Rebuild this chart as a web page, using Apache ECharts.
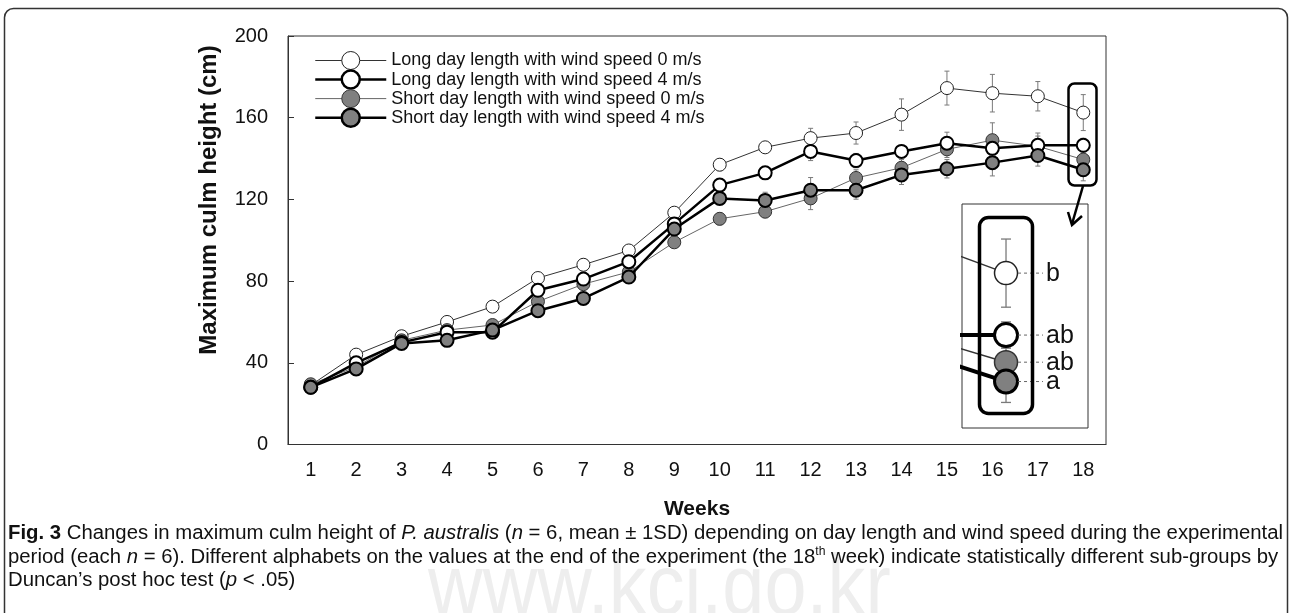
<!DOCTYPE html>
<html><head><meta charset="utf-8">
<script src="https://cdn.jsdelivr.net/npm/echarts@6/dist/echarts.min.js"></script>
<style>html,body{margin:0;padding:0;background:#fff}#c{width:1292px;height:613px}</style>
</head><body><div id="c"></div>
<script>
const weeks = ['1','2','3','4','5','6','7','8','9','10','11','12','13','14','15','16','17','18'];
const seriesNames = [
  'Long day length with wind speed 0 m/s',
  'Long day length with wind speed 4 m/s',
  'Short day length with wind speed 0 m/s',
  'Short day length with wind speed 4 m/s'
];
const longWind0  = [29, 44, 53, 60, 67.5, 81.5, 88, 95, 113.5, 137, 145.5, 150, 152.5, 161.5, 174.5, 172, 170.5, 162.5];
const longWind4  = [28, 40, 50, 55, 55, 75.5, 81, 89.5, 108, 127, 133, 143.5, 139, 143.5, 147.5, 145, 146.5, 146.5];
const shortWind0 = [29.5, 38, 51, 56, 58.5, 70, 78.5, 84.5, 99, 110.5, 114, 120.5, 130.5, 135.5, 144.5, 149, 146, 139.5];
const shortWind4 = [28, 37, 49.5, 51, 56, 65.5, 71.5, 82, 105.5, 120.5, 119.5, 124.5, 124.5, 132, 135, 138, 141.5, 134.5];
const sdLongWind0  = [1, 1, 1.5, 1.5, 1.5, 2, 3, 2.5, 2.5, 3, 2, 4.8, 5.4, 7.7, 8.3, 9.2, 7.2, 8.8];
const sdLongWind4  = [1, 1, 1, 1, 1, 2, 2, 2, 2, 3, 3, 4.5, 3.5, 3, 5.4, 5, 6, 3.4];
const sdShortWind0 = [1, 1, 1, 1, 1.5, 2, 2, 2, 2, 3, 3, 5.5, 4, 4, 4, 8.5, 5, 4];
const sdShortWind4 = [1, 1, 1, 1, 1, 3, 2, 2, 2, 3, 4, 6.2, 4.4, 4.7, 4.5, 6.5, 5.2, 5.4];
const yTickMin = 0, yTickMax = 200, yTickStep = 40;
const groupLetters = ['b', 'ab', 'ab', 'a'];

const allMeans = [longWind0, longWind4, shortWind0, shortWind4];
const allSd = [sdLongWind0, sdLongWind4, sdShortWind0, sdShortWind4];
const looks = [
  {fill:'#ffffff', line:'#333333', lw:1,   bw:1,   border:'#222', ilw:1.5, ibw:1.5},
  {fill:'#ffffff', line:'#000000', lw:2.5, bw:2,   border:'#000', ilw:4,   ibw:3},
  {fill:'#808080', line:'#666666', lw:1,   bw:1,   border:'#333', ilw:1.5, ibw:1.5},
  {fill:'#808080', line:'#000000', lw:2.5, bw:2,   border:'#000', ilw:4,   ibw:3}
];
const drawOrder = [0, 2, 1, 3];
const FONT = 'Liberation Sans, Arial, Helvetica, sans-serif';

function textW(str, font){ const c=document.createElement('canvas').getContext('2d'); c.font=font; return c.measureText(str).width; }

const chart = echarts.init(document.getElementById('c'), null, {renderer:'canvas'});

const series = [];
// error bars main
series.push({
  type:'custom', xAxisIndex:0, yAxisIndex:0, z:1, silent:true,
  data: (function(){ const d=[]; allMeans.forEach((m,s)=>m.forEach((v,i)=>d.push([i, v, allSd[s][i]]))); return d; })(),
  renderItem: function(params, api){
    const i=api.value(0), v=api.value(1), sd=api.value(2);
    const top=api.coord([i, v+sd]), bot=api.coord([i, v-sd]);
    const cw=2.5, st={stroke:'#7a7a7a', lineWidth:1};
    return {type:'group', children:[
      {type:'line', shape:{x1:top[0],y1:top[1],x2:bot[0],y2:bot[1]}, style:st},
      {type:'line', shape:{x1:top[0]-cw,y1:top[1],x2:top[0]+cw,y2:top[1]}, style:st},
      {type:'line', shape:{x1:bot[0]-cw,y1:bot[1],x2:bot[0]+cw,y2:bot[1]}, style:st}
    ]};
  }
});
drawOrder.forEach(function(s, k){
  const L=looks[s];
  series.push({
    name: seriesNames[s], type:'line', xAxisIndex:0, yAxisIndex:0, z:2+k,
    data: allMeans[s], symbol:'circle', symbolSize:13, showSymbol:true,
    lineStyle:{color:L.line, width:L.lw},
    itemStyle:{color:L.fill, borderColor:L.border, borderWidth:L.bw},
    emphasis:{disabled:true}, animation:false
  });
});
// inset error bars
series.push({
  type:'custom', xAxisIndex:1, yAxisIndex:1, z:1, silent:true,
  data: allMeans.map((m,s)=>[Number(weeks[17]), m[17], allSd[s][17]]),
  renderItem: function(params, api){
    const x=api.value(0), v=api.value(1), sd=api.value(2);
    const top=api.coord([x, v+sd]), bot=api.coord([x, v-sd]);
    const cw=5, st={stroke:'#7a7a7a', lineWidth:1.3};
    return {type:'group', children:[
      {type:'line', shape:{x1:top[0],y1:top[1],x2:bot[0],y2:bot[1]}, style:st},
      {type:'line', shape:{x1:top[0]-cw,y1:top[1],x2:top[0]+cw,y2:top[1]}, style:st},
      {type:'line', shape:{x1:bot[0]-cw,y1:bot[1],x2:bot[0]+cw,y2:bot[1]}, style:st}
    ]};
  }
});
drawOrder.forEach(function(s, k){
  const L=looks[s];
  series.push({
    name: 'inset-' + s, type:'line', xAxisIndex:1, yAxisIndex:1, z:2+k, clip:true,
    data: [{value:[Number(weeks[16]), allMeans[s][16]], symbol:'none'}, [Number(weeks[17]), allMeans[s][17]]],
    symbol:'circle', symbolSize:23, showSymbol:true,
    lineStyle:{color:L.line === '#666666' ? '#333' : L.line, width:L.ilw},
    itemStyle:{color:L.fill, borderColor:L.border, borderWidth:L.ibw},
    emphasis:{disabled:true}, animation:false
  });
});
// inset letters with dashed leaders
series.push({
  type:'custom', xAxisIndex:1, yAxisIndex:1, z:10, silent:true, clip:false,
  data: allMeans.map((m,s)=>[Number(weeks[17]), m[17], s]),
  renderItem: function(params, api){
    const p=api.coord([api.value(0), api.value(1)]);
    const s=api.value(2);
    return {type:'group', children:[
      {type:'line', shape:{x1:p[0]+12,y1:p[1],x2:p[0]+37,y2:p[1]}, style:{stroke:'#666', lineWidth:1, lineDash:[3,3]}},
      {type:'text', x:p[0]+40, y:p[1]+1, style:{text:groupLetters[s], fontSize:25, fontFamily:FONT, fill:'#111', align:'left', verticalAlign:'middle'}}
    ]};
  }
});

// caption
const capSize = 20;
const cap1a = 'Fig. 3', cap1b = ' Changes in maximum culm height of P. australis (n = 6, mean \u00b1 1SD) depending on day length and wind speed during the experimental';
const measured = textW(cap1a, 'bold '+capSize+'px '+FONT) + textW(cap1b, capSize+'px '+FONT);
const capScale = 1275 / measured;
const rich = {
  b:{fontWeight:'bold', fontSize:capSize, fontFamily:FONT, fill:'#111'},
  i:{fontStyle:'italic', fontSize:capSize, fontFamily:FONT, fill:'#111'},
  sup:{fontSize:12, fontFamily:FONT, fill:'#111', padding:[0,0,11,0]}
};
function capText(txt, y){
  return {type:'text', x:8, y:y, scaleX:capScale, z:5,
    style:{text:txt, rich:rich, fontSize:capSize, fontFamily:FONT, fill:'#111', verticalAlign:'middle', align:'left'}};
}

const option = {
  animation:false,
  backgroundColor:'#fff',
  grid:[
    {left:288, top:36, width:818, height:408.5, show:true, borderColor:'#333', borderWidth:1, backgroundColor:'transparent'},
    {left:962, top:204, width:126, height:224, show:true, borderColor:'#333', borderWidth:1, backgroundColor:'#fff'}
  ],
  xAxis:[
    {type:'category', gridIndex:0, data:weeks, boundaryGap:true,
     axisLine:{lineStyle:{color:'#333', width:1}},
     axisTick:{inside:true, length:6, interval:0, lineStyle:{color:'#333'}},
     axisLabel:{interval:0, fontSize:20, color:'#111', margin:16, fontFamily:FONT},
     splitLine:{show:false}},
    {type:'value', gridIndex:1, min:17.476, max:18.976, show:false}
  ],
  yAxis:[
    {type:'value', gridIndex:0, min:yTickMin, max:yTickMax, interval:yTickStep,
     axisLine:{show:true, lineStyle:{color:'#333', width:1}},
     axisTick:{show:true, inside:true, length:6, lineStyle:{color:'#333'}},
     axisLabel:{fontSize:20, color:'#111', margin:20, fontFamily:FONT},
     splitLine:{show:false}},
    {type:'value', gridIndex:1, min:122.5, max:180.35, show:false}
  ],
  legend:{
    orient:'vertical', left:309, top:46, itemWidth:71, itemHeight:22.5, itemGap:-0.7,
    textStyle:{fontSize:18, color:'#111', fontFamily:FONT},
    selectedMode:false,
    data: seriesNames.map((n,s)=>({name:n, itemStyle:{borderWidth:looks[s].bw===1?1:2.5, borderColor:looks[s].border, color:looks[s].fill}, lineStyle:{width:looks[s].lw, color:looks[s].line}}))
  },
  series: series,
  graphic:[
    {type:'rect', z:0, shape:{x:4.5, y:8.5, width:1283, height:700, r:9}, style:{fill:'none', stroke:'#333', lineWidth:1.5}},
    {type:'text', z:0, x:428, y:590, scaleX:0.88, style:{text:'www.kci.go.kr', fontSize:86, fontFamily:FONT, fill:'#eeeeee', verticalAlign:'middle'}},
    capText('{b|Fig. 3} Changes in maximum culm height of {i|P. australis} ({i|n} = 6, mean \u00b1 1SD) depending on day length and wind speed during the experimental', 533),
    capText('period (each {i|n} = 6). Different alphabets on the values at the end of the experiment (the 18{sup|th} week) indicate statistically different sub-groups by', 557),
    capText('Duncan\u2019s post hoc test ({i|p} < .05)', 580),
    {type:'text', z:5, x:209, y:200, rotation:Math.PI/2, style:{text:'Maximum culm height (cm)', fontSize:24, fontWeight:'bold', fontFamily:FONT, fill:'#111', align:'center', verticalAlign:'middle'}},
    {type:'text', z:5, x:697, y:509, style:{text:'Weeks', fontSize:21, fontWeight:'bold', fontFamily:FONT, fill:'#111', align:'center', verticalAlign:'middle'}},
    {type:'rect', z:50, shape:{x:1068.5, y:83.5, width:28, height:102, r:6}, style:{fill:'none', stroke:'#000', lineWidth:2.5}},
    {type:'line', z:50, shape:{x1:1083, y1:186, x2:1072, y2:224}, style:{stroke:'#000', lineWidth:2.5}},
    {type:'polyline', z:50, shape:{points:[[1068,212],[1072,225],[1082,216]]}, style:{fill:'none', stroke:'#000', lineWidth:2.5}},
    {type:'rect', z:50, shape:{x:979.5, y:217.5, width:53, height:196, r:9}, style:{fill:'none', stroke:'#000', lineWidth:3.5}}
  ]
};
chart.setOption(option);
</script></body></html>
